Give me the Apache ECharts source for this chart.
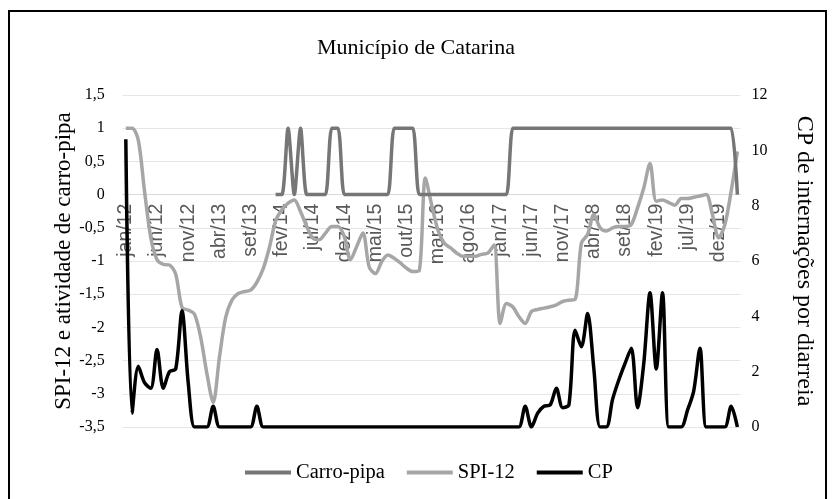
<!DOCTYPE html>
<html>
<head>
<meta charset="utf-8">
<script src="https://cdn.jsdelivr.net/npm/echarts@6/dist/echarts.min.js"></script>
<style>
  html, body { margin: 0; padding: 0; background: #fff; }
  #chart { width: 832px; height: 499px; }
</style>
</head>
<body>
<div id="chart"></div>
<script>
// month labels jan/12 .. mar/20
const monthAbbr = ["jan", "fev", "mar", "abr", "mai", "jun", "jul", "ago", "set", "out", "nov", "dez"];
const years = ["12", "13", "14", "15", "16", "17", "18", "19", "20"];
const monthCount = 99;

// Carro-pipa (left axis), starts jan/14
const carroPipa = [
  null, null, null, null, null, null, null, null, null, null, null, null,
  null, null, null, null, null, null, null, null, null, null, null, null,
  0, 0, 1, 0, 1, 0, 0, 0, 0, 1, 1, 0,
  0, 0, 0, 0, 0, 0, 0, 1, 1, 1, 1, 0,
  0, 0, 0, 0, 0, 0, 0, 0, 0, 0, 0, 0,
  0, 0, 1, 1, 1, 1, 1, 1, 1, 1, 1, 1,
  1, 1, 1, 1, 1, 1, 1, 1, 1, 1, 1, 1,
  1, 1, 1, 1, 1, 1, 1, 1, 1, 1, 1, 1,
  1, 1, 0
];

// SPI-12 (left axis)
const spi12 = [
  1.0, 1.0, 0.82, 0.05, -0.65, -0.98, -1.05, -1.06, -1.2, -1.7, -1.74, -1.8,
  -2.15, -2.7, -3.13, -2.45, -1.85, -1.59, -1.49, -1.46, -1.44, -1.32, -1.12, -0.8,
  -0.4, -0.23, -0.13, -0.08, -0.26, -0.48, -0.66, -0.68, -0.58, -0.48, -0.48, -0.63,
  -0.98, -0.78, -0.58, -1.09, -1.19, -1.01, -0.91, -0.96, -1.03, -1.11, -1.16, -1.15,
  0.25, -0.15, -0.53, -0.73, -0.8, -0.88, -0.93, -0.93, -0.93, -0.9, -0.88, -0.76,
  -1.94, -1.64, -1.69, -1.84, -1.94, -1.76, -1.73, -1.71, -1.69, -1.66, -1.61, -1.59,
  -1.58, -0.73, -0.6, -0.3, -0.5, -0.55, -0.5, -0.48, -0.48, -0.45, -0.2, 0.1,
  0.47, -0.1, -0.08, -0.12, -0.16, -0.06, -0.06, -0.04, -0.02, 0.0, -0.3, -0.65,
  -0.45, 0.05, 0.65
];

// CP de internações por diarreia (right axis)
const cp = [
  10.4, 0.5, 2.2, 1.6, 1.4, 2.8, 1.4, 2.0, 2.1, 4.2, 1.6, 0,
  0, 0, 0.75, 0, 0, 0, 0, 0, 0, 0.75, 0, 0,
  0, 0, 0, 0, 0, 0, 0, 0, 0, 0, 0, 0,
  0, 0, 0, 0, 0, 0, 0, 0, 0, 0, 0, 0,
  0, 0, 0, 0, 0, 0, 0, 0, 0, 0, 0, 0,
  0, 0, 0, 0, 0.75, 0, 0.5, 0.75, 0.8, 1.4, 0.7, 0.8,
  3.5, 2.9, 4.1, 2.1, 0, 0, 1.0, 1.7, 2.3, 2.85, 0.7, 2.3,
  4.85, 2.1, 4.85, 0, 0, 0, 0.6, 1.3, 2.85, 0, 0, 0,
  0, 0.75, 0
];

const categories = [];
for (let i = 0; i < monthCount; i++) {
  categories.push(monthAbbr[i % 12] + "/" + years[Math.floor(i / 12)]);
}

const serif = "Liberation Serif";
const gridTop = 95, gridBottom = 72, chartH = 499;
const leftMin = -3.5, leftMax = 1.5;
// the category axis crosses the left axis at zero
const zeroOffset = -(chartH - gridTop - gridBottom) * (0 - leftMin) / (leftMax - leftMin);

const chart = echarts.init(document.getElementById("chart"));
chart.setOption({
  animation: false,
  backgroundColor: "#fff",
  title: {
    text: "Município de Catarina",
    left: "center",
    top: 32,
    textStyle: { fontFamily: serif, fontSize: 22, fontWeight: "normal", color: "#000" }
  },
  legend: {
    bottom: 11,
    left: 240,
    icon: "rect",
    itemWidth: 46,
    itemHeight: 4,
    itemGap: 22,
    textStyle: { fontFamily: serif, fontSize: 20.5, color: "#000" },
    data: ["Carro-pipa", "SPI-12", "CP"]
  },
  grid: { left: 122.7, right: 91.5, top: gridTop, bottom: gridBottom },
  xAxis: {
    type: "category",
    data: categories,
    boundaryGap: true,
    offset: zeroOffset,
    axisLine: { onZero: false, lineStyle: { color: "#d9d9d9", width: 1 } },
    axisTick: { interval: 4, length: 5, lineStyle: { color: "#d9d9d9" } },
    axisLabel: {
      interval: 4,
      rotate: 90,
      margin: 9,
      fontFamily: "Liberation Sans",
      fontSize: 19.5,
      color: "#595959"
    },
    splitLine: { show: false }
  },
  yAxis: [
    {
      type: "value",
      min: leftMin,
      max: leftMax,
      interval: 0.5,
      name: "SPI-12 e atividade de carro-pipa",
      nameLocation: "middle",
      nameGap: 47,
      nameMoveOverlap: false,
      nameTextStyle: { fontFamily: serif, fontSize: 23, color: "#000" },
      axisLine: { show: false },
      axisTick: { show: false },
      axisLabel: {
        margin: 18,
        fontFamily: serif,
        fontSize: 16,
        color: "#000",
        formatter: v => String(Math.round(v * 10) / 10).replace(".", ",")
      },
      splitLine: { lineStyle: { color: "#e6e6e6", width: 1 } }
    },
    {
      type: "value",
      min: 0,
      max: 12,
      interval: 2,
      name: "CP de internações por diarreia",
      nameLocation: "middle",
      nameGap: 52,
      nameMoveOverlap: false,
      nameRotate: -90,
      nameTextStyle: { fontFamily: serif, fontSize: 24, color: "#000" },
      axisLine: { show: false },
      axisTick: { show: false },
      axisLabel: { margin: 11, fontFamily: serif, fontSize: 16, color: "#000" },
      splitLine: { show: false }
    }
  ],
  series: [
    {
      name: "Carro-pipa",
      type: "line",
      yAxisIndex: 0,
      data: carroPipa,
      smooth: 0.25,
      showSymbol: false,
      symbol: "none",
      color: "#767676",
      lineStyle: { width: 3.5, color: "#767676" },
      z: 3
    },
    {
      name: "SPI-12",
      type: "line",
      yAxisIndex: 0,
      data: spi12,
      smooth: 0.3,
      showSymbol: false,
      symbol: "none",
      color: "#a6a6a6",
      lineStyle: { width: 3.5, color: "#a6a6a6" },
      z: 2
    },
    {
      name: "CP",
      type: "line",
      yAxisIndex: 1,
      data: cp,
      smooth: 0.3,
      showSymbol: false,
      symbol: "none",
      color: "#000",
      lineStyle: { width: 3.5, color: "#000" },
      z: 4
    }
  ],
  graphic: [
    {
      type: "rect",
      shape: { x: 9, y: 11, width: 817, height: 500 },
      style: { fill: null, stroke: "#000", lineWidth: 2 },
      silent: true
    }
  ]
});
</script>
</body>
</html>
